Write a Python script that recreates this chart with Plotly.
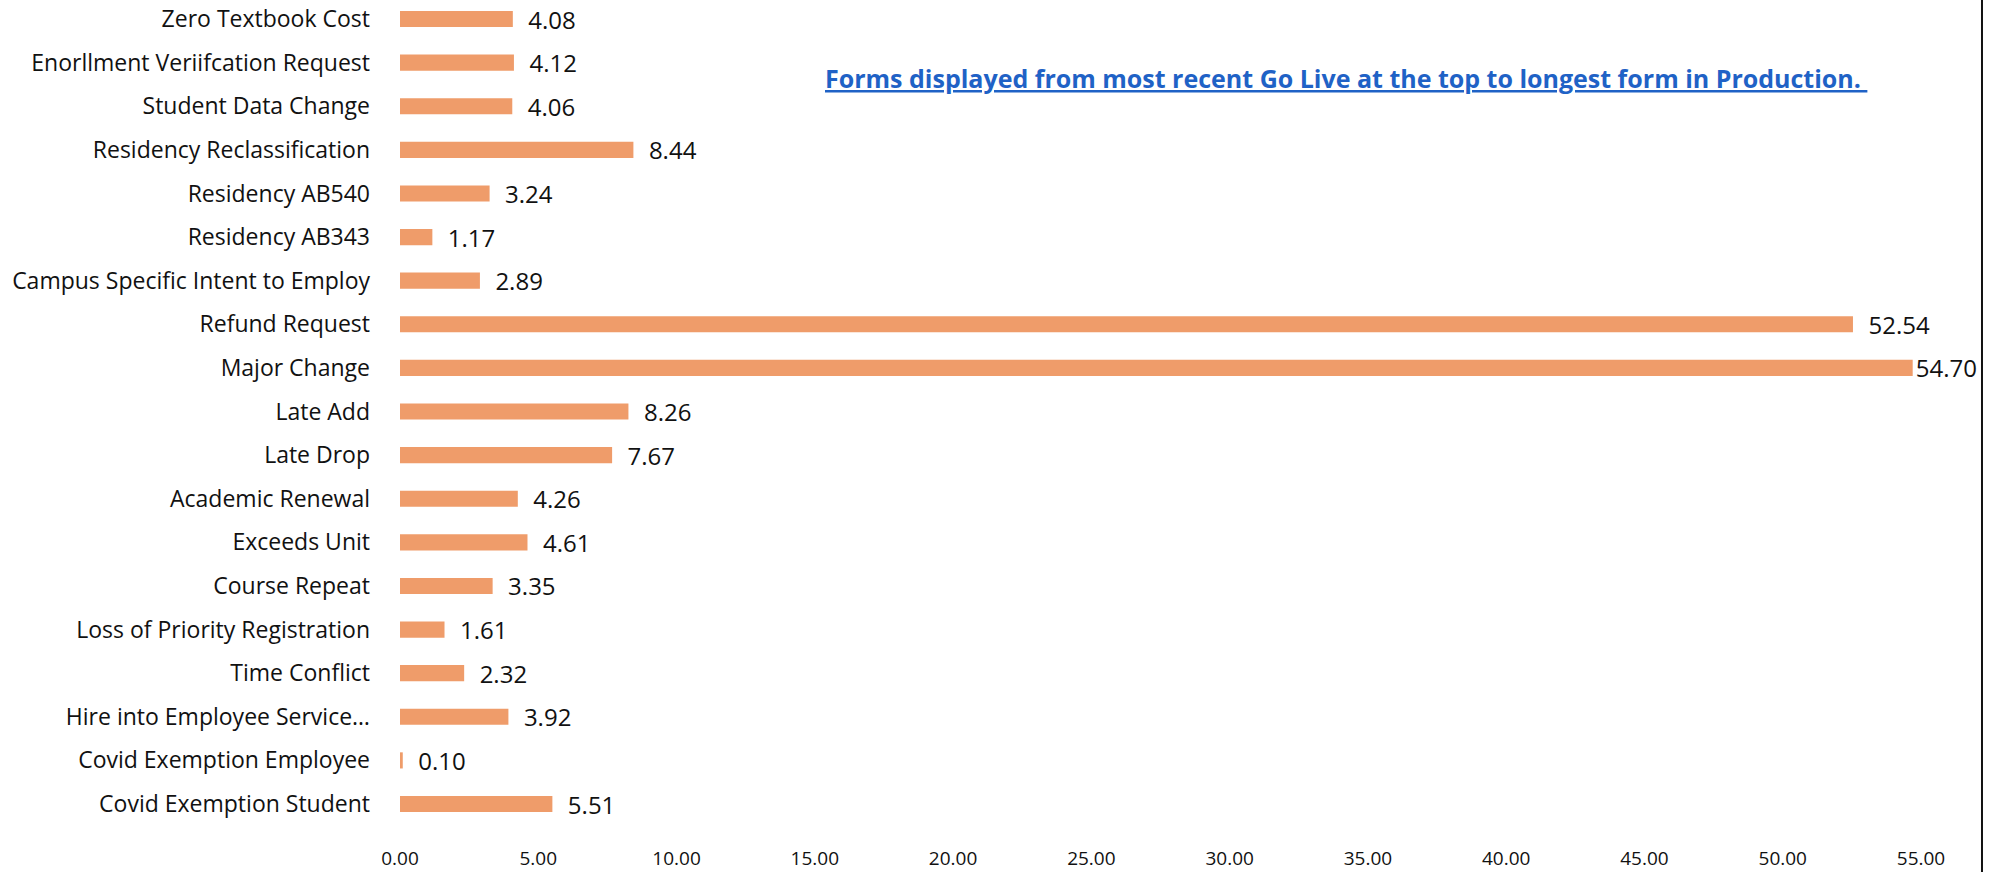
import plotly.graph_objects as go

forms = [
    "Zero Textbook Cost",
    "Enorllment Veriifcation Request",
    "Student Data Change",
    "Residency Reclassification",
    "Residency AB540",
    "Residency AB343",
    "Campus Specific Intent to Employ",
    "Refund Request",
    "Major Change",
    "Late Add",
    "Late Drop",
    "Academic Renewal",
    "Exceeds Unit",
    "Course Repeat",
    "Loss of Priority Registration",
    "Time Conflict",
    "Hire into Employee Service\u2026",
    "Covid Exemption Employee",
    "Covid Exemption Student",
]
avg_days = [4.08, 4.12, 4.06, 8.44, 3.24, 1.17, 2.89, 52.54, 54.70, 8.26,
            7.67, 4.26, 4.61, 3.35, 1.61, 2.32, 3.92, 0.10, 5.51]

x_ticks = [0, 5, 10, 15, 20, 25, 30, 35, 40, 45, 50, 55]

note = "Forms displayed from most recent Go Live at the top to longest form in Production. "

FONT = "Open Sans"

# label sits flush against the longest bar (it reaches the axis end), padded elsewhere
vmax = max(avg_days)
templates = ["%{x:.2f}" if v == vmax else "\u00a0\u00a0%{x:.2f}" for v in avg_days]

fig = go.Figure()
fig.add_trace(go.Bar(
    x=avg_days,
    y=forms,
    orientation="h",
    marker=dict(color="#EF9C6A", line=dict(width=0)),
    width=0.37,
    texttemplate=templates,
    textposition="outside",
    constraintext="none",
    cliponaxis=False,
    textfont=dict(family=FONT, size=24, color="#111111"),
    hoverinfo="skip",
))

fig.update_layout(
    width=1992,
    height=872,
    margin=dict(l=400, r=71, t=0, b=27),
    paper_bgcolor="white",
    plot_bgcolor="white",
    showlegend=False,
    font=dict(family=FONT, size=20, color="#111111"),
    xaxis=dict(
        range=[0, 55],
        tickvals=x_ticks,
        tickformat=".2f",
        showgrid=False,
        zeroline=False,
        showline=False,
        ticks="",
        tickfont=dict(family=FONT, size=19, color="#111111"),
        fixedrange=True,
    ),
    yaxis=dict(
        type="category",
        categoryorder="array",
        categoryarray=forms,
        range=[18.94, -0.436],
        showgrid=False,
        zeroline=False,
        showline=False,
        ticks="",
        ticklabelstandoff=29,
        tickfont=dict(family=FONT, size=23, color="#111111"),
        fixedrange=True,
    ),
    annotations=[dict(
        text="<b><u>" + note + "</u></b>",
        xref="paper", yref="paper",
        x=0.622, y=0.908,
        xanchor="center", yanchor="middle",
        showarrow=False,
        font=dict(family=FONT, size=25, color="#1F62C6"),
    )],
    shapes=[dict(
        type="line", xref="paper", yref="paper",
        x0=1.0401, x1=1.0401, y0=-0.05, y1=1.0,
        line=dict(color="#111111", width=2),
    )],
)

fig.write_html("out.html")
